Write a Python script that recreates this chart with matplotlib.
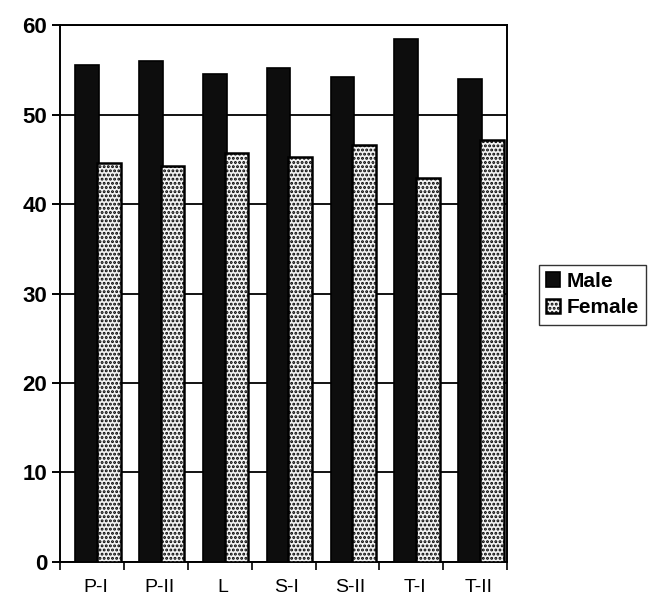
import numpy as np
import matplotlib.pyplot as plt

plt.rcParams["font.family"] = ["Liberation Sans", "DejaVu Sans"]
plt.rcParams["hatch.linewidth"] = 1.4

categories = ["P-I", "P-II", "L", "S-I", "S-II", "T-I", "T-II"]
male = [55.6, 56.0, 54.5, 55.2, 54.2, 58.5, 54.0]
female = [44.6, 44.3, 45.7, 45.3, 46.6, 42.9, 47.2]

x = np.arange(len(categories))
w = 0.37

fig = plt.figure(figsize=(6.69, 5.99), dpi=100)
ax = fig.add_axes([0.090, 0.062, 0.668, 0.896])

ax.bar(x - 0.08, male, w, color="#0d0d0d", edgecolor="black", lw=1.2,
       label="Male", zorder=3)
ax.bar(x + 0.26, female, w, color="#f2f2f2", edgecolor="black", lw=1.8,
       hatch="....", label="Female", zorder=4)

ax.set_xlim(-0.5, len(categories) - 0.5)
ax.set_ylim(0, 60)
ax.set_yticks(np.arange(0, 61, 10))
ax.yaxis.grid(True, color="black", lw=1.3, zorder=0)
ax.set_axisbelow(True)

ax.set_xticks(x + 0.05)
ax.set_xticklabels(categories, fontsize=14)
ax.set_xticks(np.arange(-0.5, len(categories)), minor=True)
ax.tick_params(axis="x", which="major", length=0, pad=12)
ax.tick_params(axis="x", which="minor", length=6, width=1.2, direction="out")
ax.tick_params(axis="y", length=6, width=1.4, direction="out", labelsize=16)
for t in ax.get_yticklabels():
    t.set_fontweight("bold")

for s in ax.spines.values():
    s.set_linewidth(1.4)

fig.legend(loc="upper left", bbox_to_anchor=(0.805, 0.558), frameon=True,
           fancybox=False, edgecolor="black",
           prop={"weight": "bold", "size": 15}, handlelength=0.7,
           handleheight=0.7, handletextpad=0.3, borderpad=0.35,
           labelspacing=0.35, borderaxespad=0)

fig.savefig("out.png", dpi=100)
